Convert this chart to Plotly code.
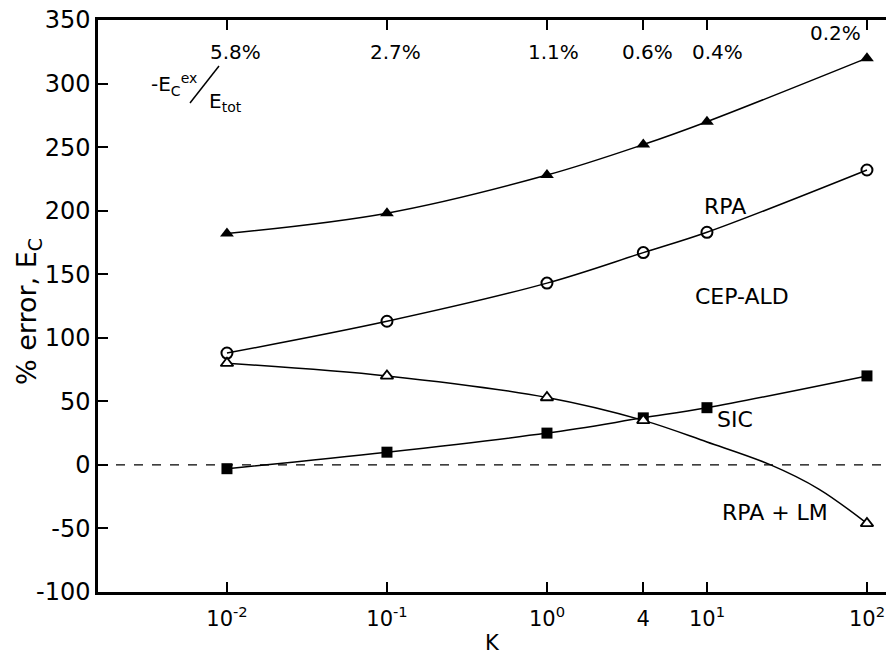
import math
import plotly.graph_objects as go

# ---- data ----
K = [0.01, 0.1, 1.0, 4.0, 10.0, 100.0]
rpa = [182, 198, 228, 252, 270, 320]
cep_ald = [88, 113, 143, 167, 183, 232]
sic = [-3, 10, 25, 37, 45, 70]
rpa_lm_K = [0.01, 0.1, 1.0, 4.0, 100.0]
rpa_lm = [80, 70, 53, 35, -46]
# points read along the RPA+LM curve (no markers there)
rpa_lm_curve_K = [0.01, 0.1, 1.0, 4.0, 10.0, 25.0, 50.0, 100.0]
rpa_lm_curve = [80, 70, 53, 35, 18, 0, -19, -46]

tick_vals = [0.01, 0.1, 1, 4, 10, 100]
tick_text = ["10<sup>-2</sup>", "10<sup>-1</sup>", "10<sup>0</sup>", "4", "10<sup>1</sup>", "10<sup>2</sup>"]
y_tick_vals = [-100, -50, 0, 50, 100, 150, 200, 250, 300, 350]
y_tick_text = ["-100", "-50", "0", "50", "100", "150", "200", "250", "300", "350"]
pct_K = [0.01, 0.1, 1, 4, 10, 100]
pct_labels = ["5.8%", "2.7%", "1.1%", "0.6%", "0.4%", "0.2%"]

W, H = 886, 655
ML, MR, MT, MB = 98, 0, 20, 63
FONT = "DejaVu Sans"


def px(x, y):
    return (x - ML) / (W - ML - MR), 1 - (y - MT) / (H - MT - MB)


fig = go.Figure()
line = dict(color="black", width=1.5)
fig.add_trace(go.Scatter(x=K, y=rpa, mode="lines+markers", line=line, line_shape="spline",
                         marker=dict(symbol="triangle-up", size=12, color="black")))
fig.add_trace(go.Scatter(x=K, y=cep_ald, mode="lines+markers", line=line, line_shape="spline",
                         marker=dict(symbol="circle-open", size=11, color="black", line=dict(width=2))))
fig.add_trace(go.Scatter(x=K, y=sic, mode="lines+markers", line=line, line_shape="spline",
                         marker=dict(symbol="square", size=11, color="black")))
fig.add_trace(go.Scatter(x=rpa_lm_curve_K, y=rpa_lm_curve, mode="lines", line=line, line_shape="spline"))
fig.add_trace(go.Scatter(x=rpa_lm_K, y=rpa_lm, mode="markers",
                         marker=dict(symbol="triangle-up", size=11, color="white", line=dict(width=1.8, color="black"))))

fig.add_hline(y=0, line=dict(color="black", width=1.2, dash="dash"))

anns = []


def add_text(txt, xpix, ypix, size, angle=0):
    xx, yp = px(xpix, ypix)
    anns.append(dict(x=xx, y=yp, xref="paper", yref="paper", text=txt, showarrow=False,
                     xanchor="center", yanchor="middle", textangle=angle,
                     font=dict(size=size, family=FONT, color="black")))


# percentages along the top
pct_pos_y = [52, 52, 52, 52, 52, 33]
pct_dx = [8, 8, 6, 4, 10, -32]
for k, lab, yy, dx in zip(pct_K, pct_labels, pct_pos_y, pct_dx):
    xpix = 227 + (math.log10(k) + 2) * 160 + dx
    add_text(lab, xpix, yy, 20)

# -Ec^ex / Etot label
add_text("-E<sub>C</sub><sup>ex</sup>", 174, 84, 20)
add_text("E<sub>tot</sub>", 225, 102, 20)
x0, y0 = px(190, 103)
x1, y1 = px(219, 66)
fig.add_shape(type="line", xref="paper", yref="paper", x0=x0, y0=y0, x1=x1, y1=y1,
              line=dict(color="black", width=1.5))

# curve labels
for txt, xpix, ypix in [("RPA", 725, 207), ("CEP-ALD", 742, 296), ("SIC", 735, 419), ("RPA + LM", 775, 512)]:
    add_text(txt, xpix, ypix, 22)

# y-axis title
add_text("% error, E<sub>C</sub>", 28, 312, 27, angle=-90)

fig.update_layout(
    width=W, height=H,
    margin=dict(l=ML, r=MR, t=MT, b=MB, autoexpand=False),
    paper_bgcolor="white", plot_bgcolor="white",
    showlegend=False,
    annotations=anns,
    font=dict(family=FONT, color="black"),
)
fig.update_xaxes(type="log", range=[-2.806, 2.119], tickvals=tick_vals, ticktext=tick_text,
                 ticks="inside", ticklen=10, tickwidth=1.5, tickcolor="black",
                 showline=True, linecolor="black", linewidth=2.5, mirror="ticks",
                 showgrid=False, zeroline=False, automargin=False,
                 tickfont=dict(size=21, family=FONT), ticklabelstandoff=6,
                 title=dict(text="K", font=dict(size=21, family=FONT), standoff=8))
fig.update_yaxes(range=[-100, 350], tickvals=y_tick_vals, ticktext=y_tick_text,
                 ticks="inside", ticklen=10, tickwidth=1.5, tickcolor="black",
                 showline=True, linecolor="black", linewidth=2.5,
                 showgrid=False, zeroline=False, automargin=False,
                 tickfont=dict(size=24, family=FONT))

fig.write_html("out.html", config={"displayModeBar": False},
               post_script="document.body.style.margin='0';document.body.style.overflow='hidden';")
